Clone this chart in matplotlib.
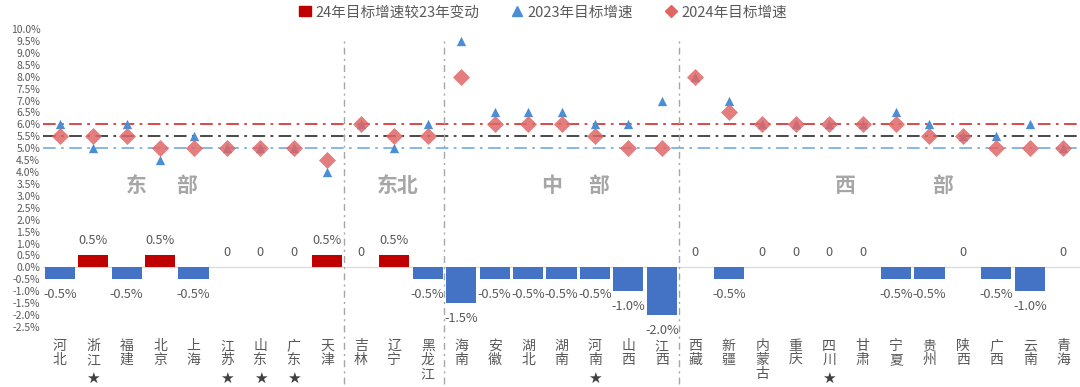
import matplotlib
matplotlib.use("Agg")
from matplotlib import pyplot as plt
from matplotlib.lines import Line2D
from matplotlib.patches import Patch
import numpy as np

plt.rcParams['font.family'] = ['Noto Sans CJK SC', 'DejaVu Sans']

# data
provinces = ['河北', '浙江', '福建', '北京', '上海', '江苏', '山东', '广东', '天津',
             '吉林', '辽宁', '黑龙江',
             '海南', '安徽', '湖北', '湖南', '河南', '山西', '江西',
             '西藏', '新疆', '内蒙古', '重庆', '四川', '甘肃', '宁夏', '贵州', '陕西',
             '广西', '云南', '青海']
target_2023 = [6.0, 5.0, 6.0, 4.5, 5.5, 5.0, 5.0, 5.0, 4.0,
               6.0, 5.0, 6.0,
               9.5, 6.5, 6.5, 6.5, 6.0, 6.0, 7.0,
               8.0, 7.0, 6.0, 6.0, 6.0, 6.0, 6.5, 6.0, 5.5, 5.5, 6.0, 5.0]
target_2024 = [5.5, 5.5, 5.5, 5.0, 5.0, 5.0, 5.0, 5.0, 4.5,
               6.0, 5.5, 5.5,
               8.0, 6.0, 6.0, 6.0, 5.5, 5.0, 5.0,
               8.0, 6.5, 6.0, 6.0, 6.0, 6.0, 6.0, 5.5, 5.5, 5.0, 5.0, 5.0]
change = [-0.5, 0.5, -0.5, 0.5, -0.5, 0, 0, 0, 0.5,
          0, 0.5, -0.5,
          -1.5, -0.5, -0.5, -0.5, -0.5, -1.0, -2.0,
          0, -0.5, 0, 0, 0, 0, -0.5, -0.5, 0, -0.5, -1.0, 0]
starred = ['浙江', '江苏', '山东', '广东', '河南', '四川']
ref_lines = [6.0, 5.5, 5.0]
ref_colors = ['#D9393A', '#3A3A3A', '#7DB3E3']
# region borders after these indices, region names with center positions
borders = [8.5, 11.5, 18.5]
regions = [('东', 2.3), ('部', 3.8), ('东北', 10.1), ('中', 14.7), ('部', 16.1),
           ('西', 23.5), ('部', 26.4)]

grey = '#595959'
x = np.arange(len(provinces))

fig = plt.figure(figsize=(10.8, 3.87), dpi=100)
ax = fig.add_axes([43 / 1080, 60 / 387, 1037 / 1080, 298 / 387])

bar_colors = ['#C00000' if v > 0 else '#4472C4' for v in change]
ax.bar(x, change, width=0.9, color=bar_colors, zorder=2)
ax.axhline(0, color='#D9D9D9', lw=0.8, zorder=1)

for yv, c in zip(ref_lines, ref_colors):
    ax.axhline(yv, color=c, lw=1.3, ls=(0, (7, 3, 1.5, 3)), zorder=1)

for b in borders:
    ax.axvline(b, ymin=-0.19, ymax=0.965, color='#A6A6A6', lw=1.0,
               ls=(0, (5, 3, 1.5, 3)), clip_on=False, zorder=1)

ax.scatter(x, target_2023, marker='^', s=45, color='#4A8ED6', zorder=3, linewidths=0)
ax.scatter(x, target_2024, marker='D', s=75, color='#E06666', alpha=0.85, zorder=4,
           linewidths=0)

# bar data labels
for i, v in enumerate(change):
    txt = '0' if v == 0 else f'{v:.1f}%'
    off = -11 if v < 0 else 11
    ax.annotate(txt, (i, v), xytext=(0, off), textcoords='offset points',
                ha='center', va='center', fontsize=9.2, color=grey)

for name, xc in regions:
    ax.text(xc, 3.45, name, ha='center', va='center', fontsize=15,
            fontweight='bold', color='#A6A6A6')

ax.set_xlim(-0.5, 30.5)
ax.set_ylim(-2.5, 10)
ax.set_yticks(np.arange(-2.5, 10.01, 0.5))
ax.set_yticklabels([f'{t:.1f}%' for t in np.arange(-2.5, 10.01, 0.5)])
ax.tick_params(axis='y', length=0, pad=2, labelsize=7.5, labelcolor=grey)

ax.set_xticks(x)
ax.set_xticklabels(['\n'.join(p) for p in provinces], fontsize=10, color=grey,
                   linespacing=1.0, va='top')
ax.tick_params(axis='x', length=0, pad=8.5)

for i, p in enumerate(provinces):
    if p in starred:
        ax.text(i, -0.172, '★', transform=ax.get_xaxis_transform(), ha='center',
                va='center', fontsize=11, color='#404040', family=['DejaVu Sans'])

for s in ax.spines.values():
    s.set_visible(False)

handles = [Patch(color='#C00000', label='24年目标增速较23年变动'),
           Line2D([], [], marker='^', ls='none', color='#4A8ED6', markersize=7,
                  label='2023年目标增速'),
           Line2D([], [], marker='D', ls='none', color='#E06666', markersize=6,
                  label='2024年目标增速')]
fig.legend(handles=handles, loc='upper center', bbox_to_anchor=(0.503, 1.02), ncol=3,
           frameon=False, fontsize=10.5, labelcolor=grey, handlelength=0.8,
           handletextpad=0.3, columnspacing=2.2)

fig.savefig('out.png', dpi=100)
